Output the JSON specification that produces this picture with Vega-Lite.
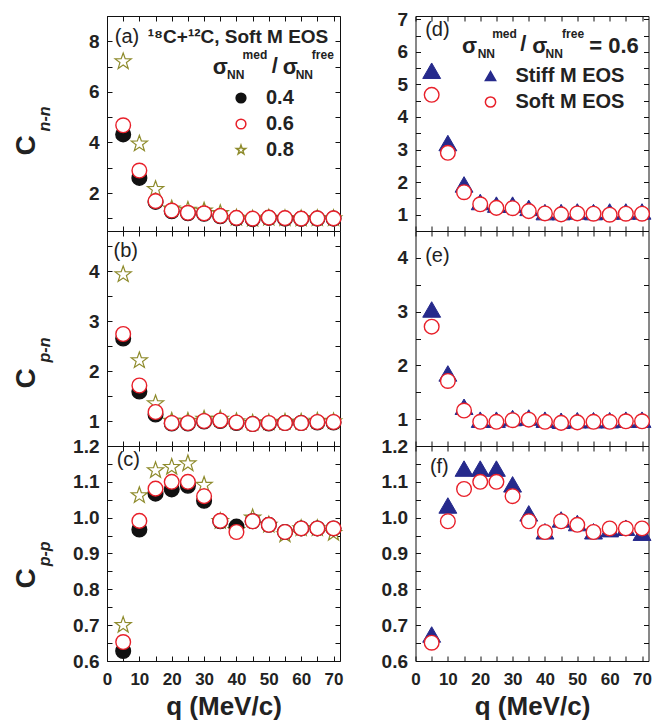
{
  "$schema": "https://vega.github.io/schema/vega-lite/v6.json",
  "padding": {"left": 12, "top": 7, "right": 5, "bottom": 5},
  "config": {
    "font": "Liberation Sans",
    "view": {"stroke": null},
    "axis": {
      "domainColor": "#111", "domainWidth": 1, "tickColor": "#111", "tickWidth": 1, "grid": false, "tickSize": -5,
      "labelFont": "Liberation Sans", "labelFontWeight": "bold", "labelColor": "#222",
      "labelFlush": false, "labelOverlap": false, "labelBound": false,
      "titleFont": "Liberation Sans", "titleFontWeight": "bold", "titleColor": "#222"
    },
    "axisX": {"labelFontSize": 17, "labelPadding": 15, "titleFontSize": 26, "titlePadding": 6},
    "axisY": {"labelFontSize": 19, "labelPadding": 13, "titleFontSize": 28},
    "legend": {
      "labelFont": "Liberation Sans", "labelFontWeight": "bold", "labelFontSize": 20, "labelColor": "#222",
      "symbolStrokeWidth": 1.5, "rowPadding": 6, "labelOffset": 15
    },
    "text": {"font": "Liberation Sans", "color": "#222"}
  },
  "datasets": {
    "cnn": [
      {"q": 5, "s": "0.8", "C": 7.2}, {"q": 10, "s": "0.8", "C": 3.95}, {"q": 15, "s": "0.8", "C": 2.15}, {"q": 20, "s": "0.8", "C": 1.38}, {"q": 25, "s": "0.8", "C": 1.33}, {"q": 30, "s": "0.8", "C": 1.3}, {"q": 35, "s": "0.8", "C": 1.2}, {"q": 40, "s": "0.8", "C": 1.02}, {"q": 45, "s": "0.8", "C": 0.98}, {"q": 50, "s": "0.8", "C": 1.02}, {"q": 55, "s": "0.8", "C": 1.0}, {"q": 60, "s": "0.8", "C": 0.99}, {"q": 65, "s": "0.8", "C": 1.0}, {"q": 70, "s": "0.8", "C": 1.0},
      {"q": 5, "s": "0.4", "C": 4.32}, {"q": 10, "s": "0.4", "C": 2.6}, {"q": 15, "s": "0.4", "C": 1.65}, {"q": 20, "s": "0.4", "C": 1.28}, {"q": 25, "s": "0.4", "C": 1.2}, {"q": 30, "s": "0.4", "C": 1.18}, {"q": 35, "s": "0.4", "C": 1.08}, {"q": 40, "s": "0.4", "C": 1.0}, {"q": 45, "s": "0.4", "C": 0.97}, {"q": 50, "s": "0.4", "C": 1.02}, {"q": 55, "s": "0.4", "C": 0.99}, {"q": 60, "s": "0.4", "C": 0.98}, {"q": 65, "s": "0.4", "C": 0.99}, {"q": 70, "s": "0.4", "C": 0.99},
      {"q": 5, "s": "0.6", "C": 4.68}, {"q": 10, "s": "0.6", "C": 2.89}, {"q": 15, "s": "0.6", "C": 1.68}, {"q": 20, "s": "0.6", "C": 1.31}, {"q": 25, "s": "0.6", "C": 1.22}, {"q": 30, "s": "0.6", "C": 1.2}, {"q": 35, "s": "0.6", "C": 1.1}, {"q": 40, "s": "0.6", "C": 1.02}, {"q": 45, "s": "0.6", "C": 0.99}, {"q": 50, "s": "0.6", "C": 1.03}, {"q": 55, "s": "0.6", "C": 1.01}, {"q": 60, "s": "0.6", "C": 0.99}, {"q": 65, "s": "0.6", "C": 1.0}, {"q": 70, "s": "0.6", "C": 1.0}
    ],
    "cpn": [
      {"q": 5, "s": "0.8", "C": 3.93}, {"q": 10, "s": "0.8", "C": 2.21}, {"q": 15, "s": "0.8", "C": 1.35}, {"q": 20, "s": "0.8", "C": 1.0}, {"q": 25, "s": "0.8", "C": 1.0}, {"q": 30, "s": "0.8", "C": 1.04}, {"q": 35, "s": "0.8", "C": 1.04}, {"q": 40, "s": "0.8", "C": 0.99}, {"q": 45, "s": "0.8", "C": 0.96}, {"q": 50, "s": "0.8", "C": 0.97}, {"q": 55, "s": "0.8", "C": 0.98}, {"q": 60, "s": "0.8", "C": 0.98}, {"q": 65, "s": "0.8", "C": 1.0}, {"q": 70, "s": "0.8", "C": 0.99},
      {"q": 5, "s": "0.4", "C": 2.65}, {"q": 10, "s": "0.4", "C": 1.59}, {"q": 15, "s": "0.4", "C": 1.13}, {"q": 20, "s": "0.4", "C": 0.95}, {"q": 25, "s": "0.4", "C": 0.95}, {"q": 30, "s": "0.4", "C": 0.99}, {"q": 35, "s": "0.4", "C": 1.0}, {"q": 40, "s": "0.4", "C": 0.96}, {"q": 45, "s": "0.4", "C": 0.94}, {"q": 50, "s": "0.4", "C": 0.95}, {"q": 55, "s": "0.4", "C": 0.96}, {"q": 60, "s": "0.4", "C": 0.96}, {"q": 65, "s": "0.4", "C": 0.97}, {"q": 70, "s": "0.4", "C": 0.97},
      {"q": 5, "s": "0.6", "C": 2.74}, {"q": 10, "s": "0.6", "C": 1.71}, {"q": 15, "s": "0.6", "C": 1.18}, {"q": 20, "s": "0.6", "C": 0.96}, {"q": 25, "s": "0.6", "C": 0.96}, {"q": 30, "s": "0.6", "C": 1.0}, {"q": 35, "s": "0.6", "C": 1.01}, {"q": 40, "s": "0.6", "C": 0.97}, {"q": 45, "s": "0.6", "C": 0.94}, {"q": 50, "s": "0.6", "C": 0.96}, {"q": 55, "s": "0.6", "C": 0.96}, {"q": 60, "s": "0.6", "C": 0.96}, {"q": 65, "s": "0.6", "C": 0.98}, {"q": 70, "s": "0.6", "C": 0.98}
    ],
    "cpp": [
      {"q": 5, "s": "0.8", "C": 0.7}, {"q": 10, "s": "0.8", "C": 1.062}, {"q": 15, "s": "0.8", "C": 1.132}, {"q": 20, "s": "0.8", "C": 1.141}, {"q": 25, "s": "0.8", "C": 1.151}, {"q": 30, "s": "0.8", "C": 1.091}, {"q": 35, "s": "0.8", "C": 0.99}, {"q": 40, "s": "0.8", "C": 0.965}, {"q": 45, "s": "0.8", "C": 1.0}, {"q": 50, "s": "0.8", "C": 0.98}, {"q": 55, "s": "0.8", "C": 0.953}, {"q": 60, "s": "0.8", "C": 0.97}, {"q": 65, "s": "0.8", "C": 0.97}, {"q": 70, "s": "0.8", "C": 0.957},
      {"q": 5, "s": "0.4", "C": 0.628}, {"q": 10, "s": "0.4", "C": 0.967}, {"q": 15, "s": "0.4", "C": 1.067}, {"q": 20, "s": "0.4", "C": 1.079}, {"q": 25, "s": "0.4", "C": 1.089}, {"q": 30, "s": "0.4", "C": 1.047}, {"q": 35, "s": "0.4", "C": 0.99}, {"q": 40, "s": "0.4", "C": 0.975}, {"q": 45, "s": "0.4", "C": 0.99}, {"q": 50, "s": "0.4", "C": 0.98}, {"q": 55, "s": "0.4", "C": 0.96}, {"q": 60, "s": "0.4", "C": 0.97}, {"q": 65, "s": "0.4", "C": 0.97}, {"q": 70, "s": "0.4", "C": 0.97},
      {"q": 5, "s": "0.6", "C": 0.653}, {"q": 10, "s": "0.6", "C": 0.991}, {"q": 15, "s": "0.6", "C": 1.081}, {"q": 20, "s": "0.6", "C": 1.1}, {"q": 25, "s": "0.6", "C": 1.1}, {"q": 30, "s": "0.6", "C": 1.06}, {"q": 35, "s": "0.6", "C": 0.991}, {"q": 40, "s": "0.6", "C": 0.96}, {"q": 45, "s": "0.6", "C": 0.99}, {"q": 50, "s": "0.6", "C": 0.98}, {"q": 55, "s": "0.6", "C": 0.96}, {"q": 60, "s": "0.6", "C": 0.97}, {"q": 65, "s": "0.6", "C": 0.97}, {"q": 70, "s": "0.6", "C": 0.97}
    ],
    "enn": [
      {"q": 5, "e": "Stiff M EOS", "C": 5.42}, {"q": 10, "e": "Stiff M EOS", "C": 3.2}, {"q": 15, "e": "Stiff M EOS", "C": 1.93}, {"q": 20, "e": "Stiff M EOS", "C": 1.39}, {"q": 25, "e": "Stiff M EOS", "C": 1.31}, {"q": 30, "e": "Stiff M EOS", "C": 1.31}, {"q": 35, "e": "Stiff M EOS", "C": 1.21}, {"q": 40, "e": "Stiff M EOS", "C": 1.08}, {"q": 45, "e": "Stiff M EOS", "C": 1.08}, {"q": 50, "e": "Stiff M EOS", "C": 1.1}, {"q": 55, "e": "Stiff M EOS", "C": 1.08}, {"q": 60, "e": "Stiff M EOS", "C": 1.1}, {"q": 65, "e": "Stiff M EOS", "C": 1.1}, {"q": 70, "e": "Stiff M EOS", "C": 1.1},
      {"q": 5, "e": "Soft M EOS", "C": 4.68}, {"q": 10, "e": "Soft M EOS", "C": 2.9}, {"q": 15, "e": "Soft M EOS", "C": 1.69}, {"q": 20, "e": "Soft M EOS", "C": 1.32}, {"q": 25, "e": "Soft M EOS", "C": 1.21}, {"q": 30, "e": "Soft M EOS", "C": 1.2}, {"q": 35, "e": "Soft M EOS", "C": 1.11}, {"q": 40, "e": "Soft M EOS", "C": 1.04}, {"q": 45, "e": "Soft M EOS", "C": 1.01}, {"q": 50, "e": "Soft M EOS", "C": 1.04}, {"q": 55, "e": "Soft M EOS", "C": 1.03}, {"q": 60, "e": "Soft M EOS", "C": 1.0}, {"q": 65, "e": "Soft M EOS", "C": 1.03}, {"q": 70, "e": "Soft M EOS", "C": 1.03}
    ],
    "epn": [
      {"q": 5, "e": "Stiff M EOS", "C": 3.04}, {"q": 10, "e": "Stiff M EOS", "C": 1.85}, {"q": 15, "e": "Stiff M EOS", "C": 1.23}, {"q": 20, "e": "Stiff M EOS", "C": 0.99}, {"q": 25, "e": "Stiff M EOS", "C": 0.99}, {"q": 30, "e": "Stiff M EOS", "C": 1.02}, {"q": 35, "e": "Stiff M EOS", "C": 1.03}, {"q": 40, "e": "Stiff M EOS", "C": 0.99}, {"q": 45, "e": "Stiff M EOS", "C": 0.97}, {"q": 50, "e": "Stiff M EOS", "C": 0.98}, {"q": 55, "e": "Stiff M EOS", "C": 0.98}, {"q": 60, "e": "Stiff M EOS", "C": 0.98}, {"q": 65, "e": "Stiff M EOS", "C": 0.99}, {"q": 70, "e": "Stiff M EOS", "C": 0.99},
      {"q": 5, "e": "Soft M EOS", "C": 2.72}, {"q": 10, "e": "Soft M EOS", "C": 1.71}, {"q": 15, "e": "Soft M EOS", "C": 1.16}, {"q": 20, "e": "Soft M EOS", "C": 0.95}, {"q": 25, "e": "Soft M EOS", "C": 0.95}, {"q": 30, "e": "Soft M EOS", "C": 0.98}, {"q": 35, "e": "Soft M EOS", "C": 0.99}, {"q": 40, "e": "Soft M EOS", "C": 0.95}, {"q": 45, "e": "Soft M EOS", "C": 0.93}, {"q": 50, "e": "Soft M EOS", "C": 0.94}, {"q": 55, "e": "Soft M EOS", "C": 0.95}, {"q": 60, "e": "Soft M EOS", "C": 0.95}, {"q": 65, "e": "Soft M EOS", "C": 0.96}, {"q": 70, "e": "Soft M EOS", "C": 0.96}
    ],
    "epp": [
      {"q": 5, "e": "Stiff M EOS", "C": 0.674}, {"q": 10, "e": "Stiff M EOS", "C": 1.034}, {"q": 15, "e": "Stiff M EOS", "C": 1.137}, {"q": 20, "e": "Stiff M EOS", "C": 1.137}, {"q": 25, "e": "Stiff M EOS", "C": 1.137}, {"q": 30, "e": "Stiff M EOS", "C": 1.093}, {"q": 35, "e": "Stiff M EOS", "C": 1.012}, {"q": 40, "e": "Stiff M EOS", "C": 0.962}, {"q": 45, "e": "Stiff M EOS", "C": 0.995}, {"q": 50, "e": "Stiff M EOS", "C": 0.985}, {"q": 55, "e": "Stiff M EOS", "C": 0.962}, {"q": 60, "e": "Stiff M EOS", "C": 0.968}, {"q": 65, "e": "Stiff M EOS", "C": 0.972}, {"q": 70, "e": "Stiff M EOS", "C": 0.958},
      {"q": 5, "e": "Soft M EOS", "C": 0.651}, {"q": 10, "e": "Soft M EOS", "C": 0.99}, {"q": 15, "e": "Soft M EOS", "C": 1.08}, {"q": 20, "e": "Soft M EOS", "C": 1.1}, {"q": 25, "e": "Soft M EOS", "C": 1.1}, {"q": 30, "e": "Soft M EOS", "C": 1.06}, {"q": 35, "e": "Soft M EOS", "C": 0.99}, {"q": 40, "e": "Soft M EOS", "C": 0.96}, {"q": 45, "e": "Soft M EOS", "C": 0.99}, {"q": 50, "e": "Soft M EOS", "C": 0.98}, {"q": 55, "e": "Soft M EOS", "C": 0.96}, {"q": 60, "e": "Soft M EOS", "C": 0.97}, {"q": 65, "e": "Soft M EOS", "C": 0.97}, {"q": 70, "e": "Soft M EOS", "C": 0.97}
    ]
  },
  "spacing": 35.5,
  "resolve": {"scale": {"shape": "independent", "stroke": "independent", "fill": "independent"}, "legend": {"shape": "independent", "stroke": "independent", "fill": "independent"}},
  "hconcat": [
    {
      "spacing": 0,
      "bounds": "flush",
      "resolve": {"scale": {"shape": "independent", "stroke": "independent", "fill": "independent"}, "legend": {"shape": "independent", "stroke": "independent", "fill": "independent"}},
      "vconcat": [
        {
          "width": 233, "height": 215,
          "resolve": {"axis": {"x": "independent", "y": "independent"}},
          "layer": [
            {
              "data": {"name": "cnn"},
              "transform": [{"filter": "datum.s === '0.8'"}],
              "mark": {"type": "point", "filled": true, "opacity": 1, "strokeWidth": 1.2, "size": 290},
              "encoding": {
                "x": {"field": "q", "type": "quantitative", "scale": {"domain": [0, 72], "nice": false, "zero": false}, "axis": null},
                "y": {"field": "C", "type": "quantitative", "scale": {"domain": [0.5, 9], "nice": false, "zero": false}, "axis": null},
                "shape": {"field": "s", "type": "nominal", "scale": {"domain": ["0.4", "0.6", "0.8"], "range": ["circle", "circle", "M0,-1L0.235,-0.324L0.951,-0.309L0.38,0.124L0.588,0.809L0,0.4L-0.588,0.809L-0.38,0.124L-0.951,-0.309L-0.235,-0.324Z"]}, "legend": {"orient": "none", "legendX": 124, "legendY": 72, "title": null, "symbolSize": 95}},
                "stroke": {"field": "s", "type": "nominal", "scale": {"domain": ["0.4", "0.6", "0.8"], "range": ["#111111", "#e8202a", "#8e8b2c"]}, "legend": {"orient": "none", "legendX": 124, "legendY": 72, "title": null, "symbolSize": 95}},
                "fill": {"field": "s", "type": "nominal", "scale": {"domain": ["0.4", "0.6", "0.8"], "range": ["#111111", "#ffffff", "#ffffff"]}, "legend": {"orient": "none", "legendX": 124, "legendY": 72, "title": null, "symbolSize": 95}}
              }
            },
            {
              "data": {"name": "cnn"},
              "transform": [{"filter": "datum.s !== '0.8'"}],
              "mark": {"type": "point", "filled": true, "opacity": 1, "strokeWidth": 1.4, "size": 215},
              "encoding": {
                "x": {"field": "q", "type": "quantitative", "axis": {"orient": "bottom", "values": [0, 5, 10, 15, 20, 25, 30, 35, 40, 45, 50, 55, 60, 65, 70], "labels": false, "title": null}},
                "y": {"field": "C", "type": "quantitative", "axis": {"orient": "left", "values": [1, 2, 3, 4, 5, 6, 7, 8, 9], "labelExpr": "datum.value % 2 === 0 ? format(datum.value, 'd') : ''", "title": "C", "titleX": -81, "titleY": 129, "titleAngle": 270, "titleAlign": "center", "titleBaseline": "middle"}},
                "shape": {"field": "s", "type": "nominal", "legend": {"orient": "none", "legendX": 124, "legendY": 72, "title": null, "symbolSize": 95}},
                "stroke": {"field": "s", "type": "nominal", "legend": {"orient": "none", "legendX": 124, "legendY": 72, "title": null, "symbolSize": 95}},
                "fill": {"field": "s", "type": "nominal", "legend": {"orient": "none", "legendX": 124, "legendY": 72, "title": null, "symbolSize": 95}}
              }
            },
            {
              "data": {"values": [{}]},
              "mark": {"type": "text", "text": "(a)", "fontSize": 20, "fontWeight": "normal", "align": "left", "baseline": "alphabetic"},
              "encoding": {
                "x": {"datum": 2.4, "axis": {"orient": "top", "values": [0, 5, 10, 15, 20, 25, 30, 35, 40, 45, 50, 55, 60, 65, 70], "labels": false, "title": null}},
                "y": {"datum": 7.94, "axis": {"orient": "right", "values": [1, 2, 3, 4, 5, 6, 7, 8, 9], "labels": false, "title": null}}
              }
            },
            {
              "data": {"values": [{}]},
              "mark": {"type": "text", "text": "¹⁸C+¹²C, Soft M EOS", "fontSize": 19, "fontWeight": "bold", "align": "left", "baseline": "alphabetic"},
              "encoding": {"x": {"datum": 12.6, "axis": null}, "y": {"datum": 7.94, "axis": null}}
            },
            {
              "data": {"values": [{"t": "σ", "q": 32.7, "v": 6.69}, {"t": "/", "q": 50.9, "v": 6.76}, {"t": "σ", "q": 54.3, "v": 6.69}]},
              "mark": {"type": "text", "fontSize": 22, "fontWeight": "bold", "align": "left", "baseline": "alphabetic"},
              "encoding": {"x": {"field": "q", "type": "quantitative", "axis": null}, "y": {"field": "v", "type": "quantitative", "axis": null}, "text": {"field": "t"}}
            },
            {
              "data": {"values": [{"t": "NN", "q": 37.1, "v": 6.49}, {"t": "NN", "q": 58.3, "v": 6.49}, {"t": "med", "q": 41.9, "v": 7.31}, {"t": "free", "q": 63.3, "v": 7.31}]},
              "mark": {"type": "text", "fontSize": 12, "fontWeight": "bold", "align": "left", "baseline": "alphabetic"},
              "encoding": {"x": {"field": "q", "type": "quantitative", "axis": null}, "y": {"field": "v", "type": "quantitative", "axis": null}, "text": {"field": "t"}}
            },
            {
              "data": {"values": [{}]},
              "mark": {"type": "text", "text": "n-n", "fontSize": 16, "fontWeight": "bold", "fontStyle": "italic", "angle": 270, "align": "center", "baseline": "middle"},
              "encoding": {"x": {"datum": -19.3, "axis": null}, "y": {"datum": 4.93, "axis": null}}
            }
          ]
        },
        {
          "width": 233, "height": 215,
          "resolve": {"axis": {"x": "independent", "y": "independent"}},
          "layer": [
            {
              "data": {"name": "cpn"},
              "transform": [{"filter": "datum.s === '0.8'"}],
              "mark": {"type": "point", "filled": true, "opacity": 1, "strokeWidth": 1.2, "size": 290},
              "encoding": {
                "x": {"field": "q", "type": "quantitative", "scale": {"domain": [0, 72], "nice": false, "zero": false}, "axis": null},
                "y": {"field": "C", "type": "quantitative", "scale": {"domain": [0.5, 4.8], "nice": false, "zero": false}, "axis": null},
                "shape": {"field": "s", "type": "nominal", "scale": {"domain": ["0.4", "0.6", "0.8"], "range": ["circle", "circle", "M0,-1L0.235,-0.324L0.951,-0.309L0.38,0.124L0.588,0.809L0,0.4L-0.588,0.809L-0.38,0.124L-0.951,-0.309L-0.235,-0.324Z"]}, "legend": null},
                "stroke": {"field": "s", "type": "nominal", "scale": {"domain": ["0.4", "0.6", "0.8"], "range": ["#111111", "#e8202a", "#8e8b2c"]}, "legend": null},
                "fill": {"field": "s", "type": "nominal", "scale": {"domain": ["0.4", "0.6", "0.8"], "range": ["#111111", "#ffffff", "#ffffff"]}, "legend": null}
              }
            },
            {
              "data": {"name": "cpn"},
              "transform": [{"filter": "datum.s !== '0.8'"}],
              "mark": {"type": "point", "filled": true, "opacity": 1, "strokeWidth": 1.4, "size": 215},
              "encoding": {
                "x": {"field": "q", "type": "quantitative", "axis": {"orient": "bottom", "values": [0, 5, 10, 15, 20, 25, 30, 35, 40, 45, 50, 55, 60, 65, 70], "labels": false, "title": null}},
                "y": {"field": "C", "type": "quantitative", "axis": {"orient": "left", "values": [1, 1.5, 2, 2.5, 3, 3.5, 4, 4.5], "labelExpr": "datum.value % 1 === 0 ? format(datum.value, 'd') : ''", "title": "C", "titleX": -81, "titleY": 147, "titleAngle": 270, "titleAlign": "center", "titleBaseline": "middle"}},
                "shape": {"field": "s", "type": "nominal", "legend": null},
                "stroke": {"field": "s", "type": "nominal", "legend": null},
                "fill": {"field": "s", "type": "nominal", "legend": null}
              }
            },
            {
              "data": {"values": [{}]},
              "mark": {"type": "text", "text": "(b)", "fontSize": 20, "fontWeight": "normal", "align": "left", "baseline": "alphabetic"},
              "encoding": {
                "x": {"datum": 2.0, "axis": {"orient": "top", "values": [0, 5, 10, 15, 20, 25, 30, 35, 40, 45, 50, 55, 60, 65, 70], "labels": false, "title": null}},
                "y": {"datum": 4.29, "axis": {"orient": "right", "values": [1, 1.5, 2, 2.5, 3, 3.5, 4, 4.5], "labels": false, "title": null}}
              }
            },
            {
              "data": {"values": [{}]},
              "mark": {"type": "text", "text": "p-n", "fontSize": 16, "fontWeight": "bold", "fontStyle": "italic", "angle": 270, "align": "center", "baseline": "middle"},
              "encoding": {"x": {"datum": -19.3, "axis": null}, "y": {"datum": 2.42, "axis": null}}
            }
          ]
        },
        {
          "width": 233, "height": 215,
          "resolve": {"axis": {"x": "independent", "y": "independent"}},
          "layer": [
            {
              "data": {"name": "cpp"},
              "transform": [{"filter": "datum.s === '0.8'"}],
              "mark": {"type": "point", "filled": true, "opacity": 1, "strokeWidth": 1.2, "size": 290},
              "encoding": {
                "x": {"field": "q", "type": "quantitative", "scale": {"domain": [0, 72], "nice": false, "zero": false}, "axis": null},
                "y": {"field": "C", "type": "quantitative", "scale": {"domain": [0.6, 1.2], "nice": false, "zero": false}, "axis": null},
                "shape": {"field": "s", "type": "nominal", "scale": {"domain": ["0.4", "0.6", "0.8"], "range": ["circle", "circle", "M0,-1L0.235,-0.324L0.951,-0.309L0.38,0.124L0.588,0.809L0,0.4L-0.588,0.809L-0.38,0.124L-0.951,-0.309L-0.235,-0.324Z"]}, "legend": null},
                "stroke": {"field": "s", "type": "nominal", "scale": {"domain": ["0.4", "0.6", "0.8"], "range": ["#111111", "#e8202a", "#8e8b2c"]}, "legend": null},
                "fill": {"field": "s", "type": "nominal", "scale": {"domain": ["0.4", "0.6", "0.8"], "range": ["#111111", "#ffffff", "#ffffff"]}, "legend": null}
              }
            },
            {
              "data": {"name": "cpp"},
              "transform": [{"filter": "datum.s !== '0.8'"}],
              "mark": {"type": "point", "filled": true, "opacity": 1, "strokeWidth": 1.4, "size": 215},
              "encoding": {
                "x": {"field": "q", "type": "quantitative", "axis": {"orient": "bottom", "values": [0, 5, 10, 15, 20, 25, 30, 35, 40, 45, 50, 55, 60, 65, 70], "labelExpr": "datum.value % 10 === 0 ? datum.label : ''", "title": "q (MeV/c)"}},
                "y": {"field": "C", "type": "quantitative", "axis": {"orient": "left", "values": [0.6, 0.65, 0.7, 0.75, 0.8, 0.85, 0.9, 0.95, 1, 1.05, 1.1, 1.15, 1.2], "labelExpr": "abs(datum.value * 10 - round(datum.value * 10)) < 0.001 ? format(datum.value, '.1f') : ''", "title": "C", "titleX": -81, "titleY": 132, "titleAngle": 270, "titleAlign": "center", "titleBaseline": "middle"}},
                "shape": {"field": "s", "type": "nominal", "legend": null},
                "stroke": {"field": "s", "type": "nominal", "legend": null},
                "fill": {"field": "s", "type": "nominal", "legend": null}
              }
            },
            {
              "data": {"values": [{}]},
              "mark": {"type": "text", "text": "(c)", "fontSize": 20, "fontWeight": "normal", "align": "left", "baseline": "alphabetic"},
              "encoding": {
                "x": {"datum": 3.0, "axis": {"orient": "top", "values": [0, 5, 10, 15, 20, 25, 30, 35, 40, 45, 50, 55, 60, 65, 70], "labels": false, "title": null}},
                "y": {"datum": 1.144, "axis": {"orient": "right", "values": [0.6, 0.65, 0.7, 0.75, 0.8, 0.85, 0.9, 0.95, 1, 1.05, 1.1, 1.15, 1.2], "labels": false, "title": null}}
              }
            },
            {
              "data": {"values": [{}]},
              "mark": {"type": "text", "text": "p-p", "fontSize": 16, "fontWeight": "bold", "fontStyle": "italic", "angle": 270, "align": "center", "baseline": "middle"},
              "encoding": {"x": {"datum": -19.3, "axis": null}, "y": {"datum": 0.899, "axis": null}}
            }
          ]
        }
      ]
    },
    {
      "spacing": 0,
      "bounds": "flush",
      "resolve": {"scale": {"shape": "independent", "stroke": "independent", "fill": "independent"}, "legend": {"shape": "independent", "stroke": "independent", "fill": "independent"}},
      "vconcat": [
        {
          "width": 233, "height": 215,
          "resolve": {"axis": {"x": "independent", "y": "independent"}},
          "layer": [
            {
              "data": {"name": "enn"},
              "transform": [{"filter": "datum.e === 'Stiff M EOS'"}],
              "mark": {"type": "point", "filled": true, "opacity": 1, "strokeWidth": 1, "size": 320},
              "encoding": {
                "x": {"field": "q", "type": "quantitative", "scale": {"domain": [0, 72], "nice": false, "zero": false}, "axis": null},
                "y": {"field": "C", "type": "quantitative", "scale": {"domain": [0.5, 7.1], "nice": false, "zero": false}, "axis": null},
                "shape": {"field": "e", "type": "nominal", "scale": {"domain": ["Stiff M EOS", "Soft M EOS"], "range": ["triangle-up", "circle"]}, "legend": {"orient": "none", "legendX": 65, "legendY": 50, "title": null, "symbolSize": 105}},
                "stroke": {"field": "e", "type": "nominal", "scale": {"domain": ["Stiff M EOS", "Soft M EOS"], "range": ["#262a8c", "#e8202a"]}, "legend": {"orient": "none", "legendX": 65, "legendY": 50, "title": null, "symbolSize": 105}},
                "fill": {"field": "e", "type": "nominal", "scale": {"domain": ["Stiff M EOS", "Soft M EOS"], "range": ["#262a8c", "#ffffff"]}, "legend": {"orient": "none", "legendX": 65, "legendY": 50, "title": null, "symbolSize": 105}}
              }
            },
            {
              "data": {"name": "enn"},
              "transform": [{"filter": "datum.e === 'Soft M EOS'"}],
              "mark": {"type": "point", "filled": true, "opacity": 1, "strokeWidth": 1.4, "size": 215},
              "encoding": {
                "x": {"field": "q", "type": "quantitative", "axis": {"orient": "bottom", "values": [0, 5, 10, 15, 20, 25, 30, 35, 40, 45, 50, 55, 60, 65, 70], "labels": false, "title": null}},
                "y": {"field": "C", "type": "quantitative", "axis": {"orient": "left", "values": [1, 1.5, 2, 2.5, 3, 3.5, 4, 4.5, 5, 5.5, 6, 6.5, 7], "labelExpr": "datum.value % 1 === 0 ? format(datum.value, 'd') : ''", "title": null}},
                "shape": {"field": "e", "type": "nominal", "legend": {"orient": "none", "legendX": 65, "legendY": 50, "title": null, "symbolSize": 105}},
                "stroke": {"field": "e", "type": "nominal", "legend": {"orient": "none", "legendX": 65, "legendY": 50, "title": null, "symbolSize": 105}},
                "fill": {"field": "e", "type": "nominal", "legend": {"orient": "none", "legendX": 65, "legendY": 50, "title": null, "symbolSize": 105}}
              }
            },
            {
              "data": {"values": [{}]},
              "mark": {"type": "text", "text": "(d)", "fontSize": 20, "fontWeight": "normal", "align": "left", "baseline": "alphabetic"},
              "encoding": {
                "x": {"datum": 3.0, "axis": {"orient": "top", "values": [0, 5, 10, 15, 20, 25, 30, 35, 40, 45, 50, 55, 60, 65, 70], "labels": false, "title": null}},
                "y": {"datum": 6.49, "axis": {"orient": "right", "values": [1, 1.5, 2, 2.5, 3, 3.5, 4, 4.5, 5, 5.5, 6, 6.5, 7], "labels": false, "title": null}}
              }
            },
            {
              "data": {"values": [{"t": "σ", "q": 14.4, "v": 5.97}, {"t": "/", "q": 32.4, "v": 6.03}, {"t": "σ", "q": 36.1, "v": 5.97}, {"t": "= 0.6", "q": 53.7, "v": 5.97}]},
              "mark": {"type": "text", "fontSize": 22, "fontWeight": "bold", "align": "left", "baseline": "alphabetic"},
              "encoding": {"x": {"field": "q", "type": "quantitative", "axis": null}, "y": {"field": "v", "type": "quantitative", "axis": null}, "text": {"field": "t"}}
            },
            {
              "data": {"values": [{"t": "NN", "q": 19.2, "v": 5.8}, {"t": "NN", "q": 40.2, "v": 5.8}, {"t": "med", "q": 23.7, "v": 6.43}, {"t": "free", "q": 45.3, "v": 6.43}]},
              "mark": {"type": "text", "fontSize": 12, "fontWeight": "bold", "align": "left", "baseline": "alphabetic"},
              "encoding": {"x": {"field": "q", "type": "quantitative", "axis": null}, "y": {"field": "v", "type": "quantitative", "axis": null}, "text": {"field": "t"}}
            }
          ]
        },
        {
          "width": 233, "height": 215,
          "resolve": {"axis": {"x": "independent", "y": "independent"}},
          "layer": [
            {
              "data": {"name": "epn"},
              "transform": [{"filter": "datum.e === 'Stiff M EOS'"}],
              "mark": {"type": "point", "filled": true, "opacity": 1, "strokeWidth": 1, "size": 320},
              "encoding": {
                "x": {"field": "q", "type": "quantitative", "scale": {"domain": [0, 72], "nice": false, "zero": false}, "axis": null},
                "y": {"field": "C", "type": "quantitative", "scale": {"domain": [0.5, 4.5], "nice": false, "zero": false}, "axis": null},
                "shape": {"field": "e", "type": "nominal", "scale": {"domain": ["Stiff M EOS", "Soft M EOS"], "range": ["triangle-up", "circle"]}, "legend": null},
                "stroke": {"field": "e", "type": "nominal", "scale": {"domain": ["Stiff M EOS", "Soft M EOS"], "range": ["#262a8c", "#e8202a"]}, "legend": null},
                "fill": {"field": "e", "type": "nominal", "scale": {"domain": ["Stiff M EOS", "Soft M EOS"], "range": ["#262a8c", "#ffffff"]}, "legend": null}
              }
            },
            {
              "data": {"name": "epn"},
              "transform": [{"filter": "datum.e === 'Soft M EOS'"}],
              "mark": {"type": "point", "filled": true, "opacity": 1, "strokeWidth": 1.4, "size": 215},
              "encoding": {
                "x": {"field": "q", "type": "quantitative", "axis": {"orient": "bottom", "values": [0, 5, 10, 15, 20, 25, 30, 35, 40, 45, 50, 55, 60, 65, 70], "labels": false, "title": null}},
                "y": {"field": "C", "type": "quantitative", "axis": {"orient": "left", "values": [1, 1.5, 2, 2.5, 3, 3.5, 4], "labelExpr": "datum.value % 1 === 0 ? format(datum.value, 'd') : ''", "title": null}},
                "shape": {"field": "e", "type": "nominal", "legend": null},
                "stroke": {"field": "e", "type": "nominal", "legend": null},
                "fill": {"field": "e", "type": "nominal", "legend": null}
              }
            },
            {
              "data": {"values": [{}]},
              "mark": {"type": "text", "text": "(e)", "fontSize": 20, "fontWeight": "normal", "align": "left", "baseline": "alphabetic"},
              "encoding": {
                "x": {"datum": 3.0, "axis": {"orient": "top", "values": [0, 5, 10, 15, 20, 25, 30, 35, 40, 45, 50, 55, 60, 65, 70], "labels": false, "title": null}},
                "y": {"datum": 3.93, "axis": {"orient": "right", "values": [1, 1.5, 2, 2.5, 3, 3.5, 4], "labels": false, "title": null}}
              }
            }
          ]
        },
        {
          "width": 233, "height": 215,
          "resolve": {"axis": {"x": "independent", "y": "independent"}},
          "layer": [
            {
              "data": {"name": "epp"},
              "transform": [{"filter": "datum.e === 'Stiff M EOS'"}],
              "mark": {"type": "point", "filled": true, "opacity": 1, "strokeWidth": 1, "size": 320},
              "encoding": {
                "x": {"field": "q", "type": "quantitative", "scale": {"domain": [0, 72], "nice": false, "zero": false}, "axis": null},
                "y": {"field": "C", "type": "quantitative", "scale": {"domain": [0.6, 1.2], "nice": false, "zero": false}, "axis": null},
                "shape": {"field": "e", "type": "nominal", "scale": {"domain": ["Stiff M EOS", "Soft M EOS"], "range": ["triangle-up", "circle"]}, "legend": null},
                "stroke": {"field": "e", "type": "nominal", "scale": {"domain": ["Stiff M EOS", "Soft M EOS"], "range": ["#262a8c", "#e8202a"]}, "legend": null},
                "fill": {"field": "e", "type": "nominal", "scale": {"domain": ["Stiff M EOS", "Soft M EOS"], "range": ["#262a8c", "#ffffff"]}, "legend": null}
              }
            },
            {
              "data": {"name": "epp"},
              "transform": [{"filter": "datum.e === 'Soft M EOS'"}],
              "mark": {"type": "point", "filled": true, "opacity": 1, "strokeWidth": 1.4, "size": 215},
              "encoding": {
                "x": {"field": "q", "type": "quantitative", "axis": {"orient": "bottom", "values": [0, 5, 10, 15, 20, 25, 30, 35, 40, 45, 50, 55, 60, 65, 70], "labelExpr": "datum.value % 10 === 0 ? datum.label : ''", "title": "q (MeV/c)"}},
                "y": {"field": "C", "type": "quantitative", "axis": {"orient": "left", "values": [0.6, 0.65, 0.7, 0.75, 0.8, 0.85, 0.9, 0.95, 1, 1.05, 1.1, 1.15, 1.2], "labelExpr": "abs(datum.value * 10 - round(datum.value * 10)) < 0.001 ? format(datum.value, '.1f') : ''", "title": null}},
                "shape": {"field": "e", "type": "nominal", "legend": null},
                "stroke": {"field": "e", "type": "nominal", "legend": null},
                "fill": {"field": "e", "type": "nominal", "legend": null}
              }
            },
            {
              "data": {"values": [{}]},
              "mark": {"type": "text", "text": "(f)", "fontSize": 20, "fontWeight": "normal", "align": "left", "baseline": "alphabetic"},
              "encoding": {
                "x": {"datum": 4.45, "axis": {"orient": "top", "values": [0, 5, 10, 15, 20, 25, 30, 35, 40, 45, 50, 55, 60, 65, 70], "labels": false, "title": null}},
                "y": {"datum": 1.125, "axis": {"orient": "right", "values": [0.6, 0.65, 0.7, 0.75, 0.8, 0.85, 0.9, 0.95, 1, 1.05, 1.1, 1.15, 1.2], "labels": false, "title": null}}
              }
            }
          ]
        }
      ]
    }
  ]
}
